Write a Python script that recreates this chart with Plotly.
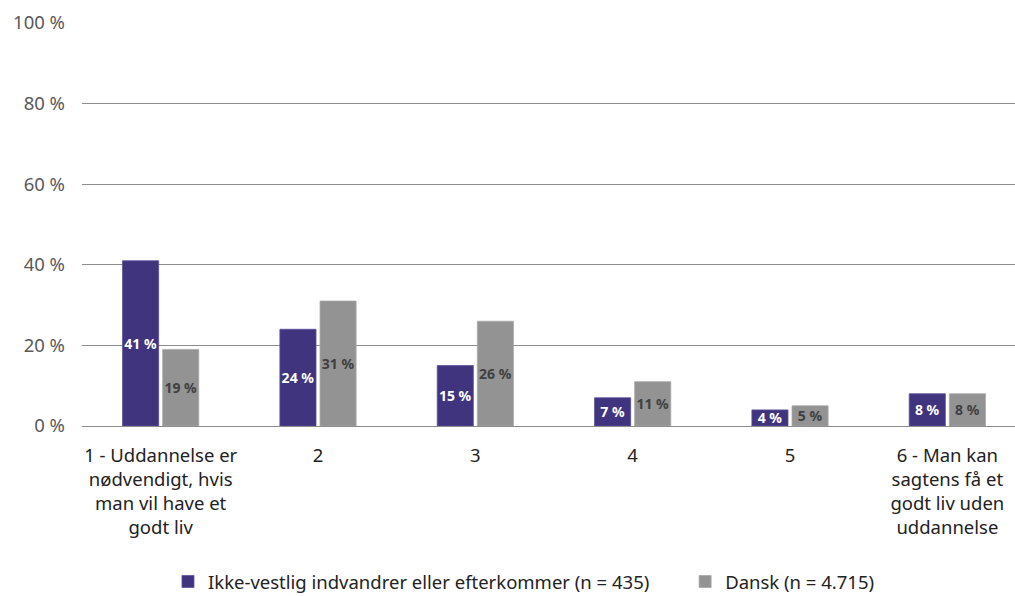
import plotly.graph_objects as go

categories = [
    "1 - Uddannelse er<br>nødvendigt, hvis<br>man vil have et<br>godt liv",
    "2", "3", "4", "5",
    "6 - Man kan<br>sagtens få et<br>godt liv uden<br>uddannelse",
]
series_names = ["Ikke-vestlig indvandrer eller efterkommer (n = 435)", "Dansk (n = 4.715)"]
ikke_vestlig = [41, 24, 15, 7, 4, 8]
dansk = [19, 31, 26, 11, 5, 8]
y_ticks = [0, 20, 40, 60, 80, 100]

FONT = "Noto Sans"
purple = "#41347f"
gray = "#939393"

fig = go.Figure()
fig.add_trace(go.Bar(
    x=categories, y=ikke_vestlig, name=series_names[0], legend="legend",
    marker=dict(color=purple, line=dict(color="#5a4f99", width=0.8)),
    text=[f"{v} %" for v in ikke_vestlig], textposition="inside",
    insidetextanchor="middle", textangle=0,
    textfont=dict(family=FONT, size=14, color="white", weight="bold"),
))
fig.add_trace(go.Bar(
    x=categories, y=dansk, name=series_names[1], legend="legend2",
    marker=dict(color=gray, line=dict(color="#a8a8a8", width=0.8)),
    text=[f"{v} %" for v in dansk], textposition="inside",
    insidetextanchor="middle", textangle=0,
    textfont=dict(family=FONT, size=14, color="#404040", weight="bold"),
))

legend_style = dict(orientation="h", xanchor="left", yanchor="middle",
                    xref="container", yref="container", y=0.0235,
                    font=dict(family=FONT, size=18.5, color="#222222"),
                    itemwidth=30, bgcolor="rgba(0,0,0,0)")

fig.update_layout(
    width=1015, height=596,
    margin=dict(l=82, r=0, t=23, b=170),
    paper_bgcolor="white", plot_bgcolor="white",
    barmode="group", bargap=0.49, bargroupgap=0.1,
    uniformtext=dict(minsize=14, mode="show"),
    font=dict(family=FONT, color="#222222"),
    legend=dict(x=0.1655, **legend_style),
    legend2=dict(x=0.675, **legend_style),
    showlegend=True,
)
fig.update_xaxes(
    range=[-0.5, 5.43], showgrid=False, showline=False, zeroline=False, automargin=False,
    tickfont=dict(family=FONT, size=18.5, color="#222222"), ticks="", ticklabelstandoff=16,
)
fig.update_yaxes(
    range=[0, 100], tickvals=y_ticks, ticktext=[f"{v} %" for v in y_ticks], automargin=False,
    showgrid=True, gridcolor="#8c8c8c", gridwidth=1, zeroline=True, zerolinecolor="#8c8c8c",
    zerolinewidth=1, showline=False, ticks="", ticklabelstandoff=16,
    tickfont=dict(family=FONT, size=18.5, color="#595959"),
)

fig.write_html("out.html", config={"displayModeBar": False},
               post_script="document.body.style.margin='0';")
